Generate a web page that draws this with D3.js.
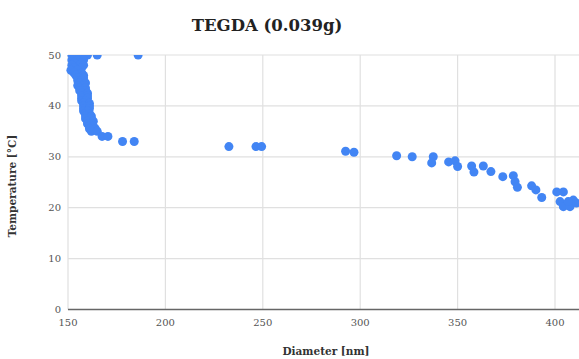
<!DOCTYPE html>
<html><head><meta charset="utf-8">
<script src="https://cdn.jsdelivr.net/npm/d3@7"></script>
<style>body{margin:0;background:#fff;}svg{display:block;}</style>
</head><body>
<script>
const title = "TEGDA (0.039g)";
const xLabel = "Diameter [nm]";
const yLabel = "Temperature [°C]";
const xTicks = [150, 200, 250, 300, 350, 400];
const yTicks = [0, 10, 20, 30, 40, 50];
const diameter = [
 152,154,156,158,160,165,186,
 153,157, 152,155,158, 153,157, 152,156,158, 153,157, 151.5,155, 153,157, 154,158,
 155,158, 155,157, 156,159, 155,158, 156,159, 156,159, 157,160, 157,160, 157,160, 157,159,
 158,161, 158,161, 158,161, 158,160, 159,161, 159,162, 159,162, 160,163, 160,162, 161,163,
 161,164, 162,165, 167.5,170.5, 178,184,
 232.6, 246.5, 249.4, 292.5, 296.8, 318.7, 326.7, 337.5, 336.7,
 345.4, 348.7, 350, 357.2, 358.4, 363.2, 367.1, 373.2, 378.6, 379.5, 380.7,
 388, 390.2, 393.2, 400.9, 404.3, 402.6, 404.3, 407.7, 409.4, 411, 406.8
];
const temperature = [
 50,50,50,50,50,50,50,
 49.5,49.5, 49,49,49, 48.5,48.5, 48,48,48, 47.5,47.5, 47,47, 46.5,46.5, 46,46,
 45.5,45.5, 45,45, 44.5,44.5, 44,44, 43.5,43.5, 43,43, 42.5,42.5, 42,42, 41.5,41.5, 41,41,
 40.5,40.5, 40,40, 39.5,39.5, 39,39, 38.5,38.5, 38,38, 37.5,37.5, 37,37, 36.5,36.5, 36,36,
 35.5,35.5, 35,35, 34,34, 33,33,
 32, 32, 32, 31.1, 30.9, 30.2, 30, 30, 28.8,
 29, 29.2, 28.1, 28.2, 27, 28.2, 27.1, 26.1, 26.3, 25.1, 24,
 24.3, 23.5, 22, 23.1, 23.1, 21.2, 20.2, 20.2, 21.5, 20.9, 21.2
];

const W = 579, H = 359;
const svg = d3.select("body").append("svg").attr("width", W).attr("height", H);
const x = d3.scaleLinear().domain([150, 450]).range([68, 652.4]);
const y = d3.scaleLinear().domain([0, 50]).range([309.5, 55]);
const serif = "'DejaVu Serif', serif";

// grid
svg.append("g").selectAll("line").data(yTicks.filter(d => d > 0)).join("line")
  .attr("x1", 68).attr("x2", W).attr("y1", d => y(d)).attr("y2", d => y(d))
  .attr("stroke", "#e0e0e0").attr("stroke-width", 1.2);
svg.append("g").selectAll("line").data(xTicks).join("line")
  .attr("x1", d => x(d)).attr("x2", d => x(d)).attr("y1", 55).attr("y2", 309.5)
  .attr("stroke", "#e0e0e0").attr("stroke-width", 1.2);
svg.append("line").attr("x1", 68).attr("x2", W).attr("y1", y(0)).attr("y2", y(0))
  .attr("stroke", "#666").attr("stroke-width", 1.5);

// tick labels
svg.append("g").selectAll("text").data(yTicks).join("text")
  .attr("x", 61).attr("y", d => y(d)).attr("dy", "0.35em").attr("text-anchor", "end")
  .attr("font-family", serif).attr("font-size", 10).attr("fill", "#555").text(d => d);
svg.append("g").selectAll("text").data(xTicks).join("text")
  .attr("x", d => x(d)).attr("y", 326).attr("text-anchor", "middle")
  .attr("font-family", serif).attr("font-size", 10).attr("fill", "#555").text(d => d);

// clip
svg.append("clipPath").attr("id", "clip").append("rect")
  .attr("x", 60).attr("y", 55).attr("width", W).attr("height", 270);

svg.append("g").attr("clip-path", "url(#clip)").selectAll("circle")
  .data(diameter.map((d, i) => [d, temperature[i]])).join("circle")
  .attr("cx", d => x(d[0])).attr("cy", d => y(d[1])).attr("r", 4.5)
  .attr("fill", "#4285f4");

// titles
svg.append("text").attr("x", 267).attr("y", 31).attr("text-anchor", "middle")
  .attr("font-family", serif).attr("font-weight", "bold").attr("font-size", 16.5)
  .attr("fill", "#222").text(title);
svg.append("text").attr("x", 326).attr("y", 355).attr("text-anchor", "middle")
  .attr("font-family", serif).attr("font-weight", "bold").attr("font-size", 10.5)
  .attr("fill", "#333").text(xLabel);
svg.append("text").attr("transform", "translate(16,186) rotate(-90)").attr("text-anchor", "middle")
  .attr("font-family", serif).attr("font-weight", "bold").attr("font-size", 10.5)
  .attr("fill", "#333").text(yLabel);
</script>
</body></html>
